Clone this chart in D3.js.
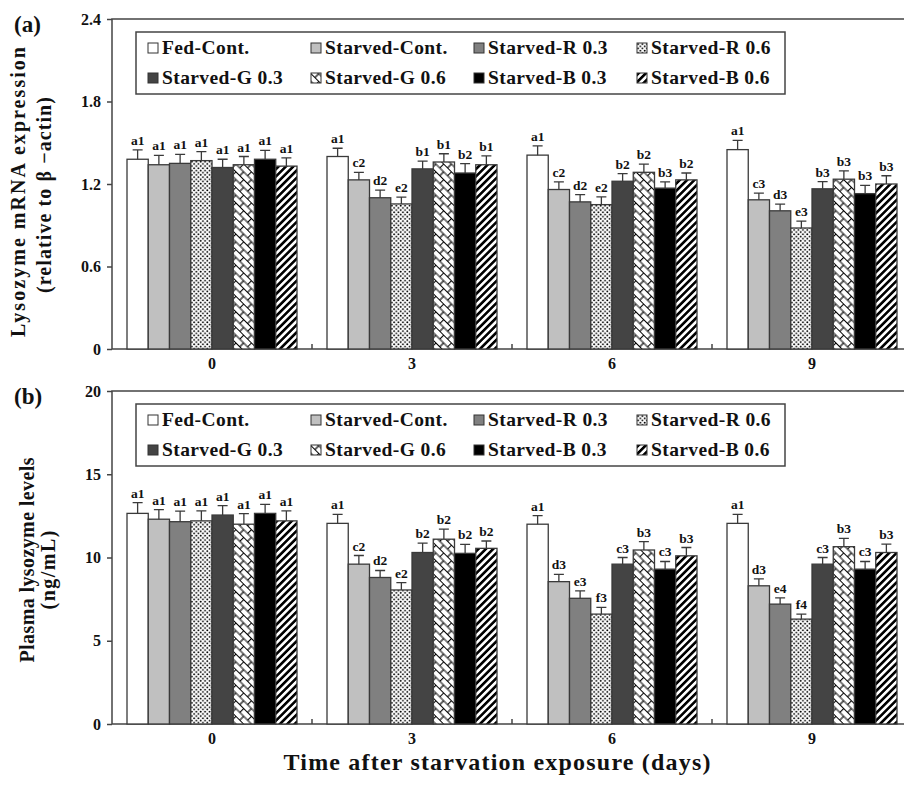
<!DOCTYPE html>
<html lang="en">
<head>
<meta charset="UTF-8">
<title>Lysozyme expression after starvation</title>
<script src="https://d3js.org/d3.v7.min.js"></script>
<style>
    body { margin: 0; background: #fff; }
    svg text { font-family: "Liberation Serif", "Times New Roman", Times, serif; font-weight: bold; fill: #111; }
    .tick line, .domain { stroke: #444; stroke-width: 1.5; }
    .frame { fill: none; stroke: #444; stroke-width: 1.5; }
    .bar { stroke: #3a3a3a; stroke-width: 1.3; }
    .err { stroke: #3a3a3a; stroke-width: 1.3; fill: none; }
</style>
</head>
<body>
<svg id="chart" width="904" height="786"></svg>
<script>
const days = ["0", "3", "6", "9"];
const groups = ["Fed-Cont.", "Starved-Cont.", "Starved-R 0.3", "Starved-R 0.6",
                "Starved-G 0.3", "Starved-G 0.6", "Starved-B 0.3", "Starved-B 0.6"];

// (a) lysozyme mRNA, relative to beta-actin; one row per day
const mrnaMeans = [
    [1.38, 1.34, 1.35, 1.37, 1.32, 1.34, 1.38, 1.33],
    [1.40, 1.23, 1.10, 1.055, 1.31, 1.36, 1.28, 1.34],
    [1.41, 1.16, 1.07, 1.05, 1.22, 1.285, 1.17, 1.23],
    [1.45, 1.085, 1.005, 0.88, 1.165, 1.235, 1.13, 1.20]
];
const mrnaErrors = [
    [0.068, 0.068, 0.065, 0.065, 0.06, 0.06, 0.065, 0.06],
    [0.06, 0.055, 0.055, 0.05, 0.056, 0.06, 0.068, 0.065],
    [0.068, 0.055, 0.053, 0.056, 0.056, 0.06, 0.045, 0.05],
    [0.068, 0.048, 0.048, 0.05, 0.053, 0.06, 0.06, 0.06]
];
const mrnaLetters = [
    ["a1", "a1", "a1", "a1", "a1", "a1", "a1", "a1"],
    ["a1", "c2", "d2", "e2", "b1", "b1", "b2", "b1"],
    ["a1", "c2", "d2", "e2", "b2", "b2", "b3", "b2"],
    ["a1", "c3", "d3", "e3", "b3", "b3", "b3", "b3"]
];
const mrnaTicks = [0, 0.6, 1.2, 1.8, 2.4];

// (b) plasma lysozyme, ng/mL
const lysoMeans = [
    [12.65, 12.3, 12.15, 12.2, 12.55, 12.0, 12.65, 12.2],
    [12.05, 9.6, 8.8, 8.05, 10.3, 11.1, 10.25, 10.55],
    [12.0, 8.55, 7.55, 6.6, 9.6, 10.45, 9.3, 10.1],
    [12.05, 8.3, 7.2, 6.3, 9.6, 10.65, 9.3, 10.3]
];
const lysoErrors = [
    [0.64, 0.58, 0.63, 0.6, 0.56, 0.64, 0.54, 0.6],
    [0.54, 0.52, 0.42, 0.44, 0.56, 0.6, 0.54, 0.44],
    [0.52, 0.44, 0.44, 0.4, 0.4, 0.5, 0.46, 0.5],
    [0.54, 0.42, 0.38, 0.3, 0.4, 0.5, 0.46, 0.5]
];
const lysoLetters = [
    ["a1", "a1", "a1", "a1", "a1", "a1", "a1", "a1"],
    ["a1", "c2", "d2", "e2", "b2", "b2", "b2", "b2"],
    ["a1", "d3", "e3", "f3", "c3", "b3", "c3", "b3"],
    ["a1", "d3", "e4", "f4", "c3", "b3", "c3", "b3"]
];
const lysoTicks = [0, 5, 10, 15, 20];

const svg = d3.select("#chart");
const defs = svg.append("defs");

// fill patterns
const dots = defs.append("pattern").attr("id", "p-dots")
    .attr("patternUnits", "userSpaceOnUse").attr("width", 4.4).attr("height", 4.4);
dots.append("rect").attr("width", 4.4).attr("height", 4.4).attr("fill", "#fff");
dots.append("circle").attr("cx", 1.1).attr("cy", 1.1).attr("r", 0.95).attr("fill", "#000");
dots.append("circle").attr("cx", 3.3).attr("cy", 3.3).attr("r", 0.95).attr("fill", "#000");

// diagonal brick lattice
const brick = defs.append("pattern").attr("id", "p-brick")
    .attr("patternUnits", "userSpaceOnUse").attr("width", 11).attr("height", 11)
    .attr("patternTransform", "rotate(45)");
brick.append("rect").attr("width", 11).attr("height", 11).attr("fill", "#fff");
brick.append("path")
    .attr("d", "M0,0.5 H11 M0,6 H11 M0.5,0.5 V6 M6,6 V11")
    .attr("stroke", "#000").attr("stroke-width", 1.2).attr("fill", "none");

const stripes = defs.append("pattern").attr("id", "p-stripes")
    .attr("patternUnits", "userSpaceOnUse").attr("width", 5.2).attr("height", 5.2)
    .attr("patternTransform", "rotate(45)");
stripes.append("rect").attr("width", 5.2).attr("height", 5.2).attr("fill", "#fff");
stripes.append("rect").attr("width", 2.6).attr("height", 5.2).attr("fill", "#000");

const fills = ["#ffffff", "#c0c0c0", "#808080", "url(#p-dots)",
               "#444444", "url(#p-brick)", "#000000", "url(#p-stripes)"];
const fillScale = d3.scaleOrdinal().domain(groups).range(fills);

const left = 112, right = 912;

const x0 = d3.scaleBand().domain(days).range([left, right])
    .paddingInner(0.15).paddingOuter(0.075);
const x1 = d3.scaleBand().domain(groups).range([0, x0.bandwidth()]);

function drawPanel(cfg) {
    const g = svg.append("g");
    const y = d3.scaleLinear().domain([cfg.ticks[0], cfg.ticks[cfg.ticks.length - 1]])
        .range([cfg.bottom, cfg.top]);

    // frame
    g.append("rect").attr("class", "frame")
        .attr("x", left).attr("y", cfg.top)
        .attr("width", right - left).attr("height", cfg.bottom - cfg.top);

    // y axis
    const ya = g.append("g").attr("transform", `translate(${left},0)`)
        .call(d3.axisLeft(y).tickValues(cfg.ticks).tickSize(5).tickPadding(6)
            .tickFormat(cfg.format));
    ya.select(".domain").remove();
    ya.selectAll("text").style("font-size", "16px");

    // x axis labels at band centers
    const xa = g.append("g").attr("transform", `translate(0,${cfg.bottom})`)
        .call(d3.axisBottom(x0).tickSize(0).tickPadding(9));
    xa.select(".domain").remove();
    xa.selectAll("text").style("font-size", "16px");

    // inward ticks at group boundaries
    const gap = x0.step() * x0.paddingInner() / 2;
    g.selectAll("line.sep").data(days.slice(1)).join("line")
        .attr("class", "sep")
        .attr("x1", d => x0(d) - gap).attr("x2", d => x0(d) - gap)
        .attr("y1", cfg.bottom).attr("y2", cfg.bottom - 5)
        .attr("stroke", "#444").attr("stroke-width", 1.5);

    // bars
    const rows = days.map((d, i) => groups.map((s, j) => ({
        day: d, group: s, v: cfg.means[i][j], e: cfg.errors[i][j], t: cfg.letters[i][j]
    })));
    const dg = g.selectAll("g.day").data(rows).join("g")
        .attr("class", "day")
        .attr("transform", (r, i) => `translate(${x0(days[i])},0)`);

    dg.selectAll("rect.bar").data(r => r).join("rect")
        .attr("class", "bar")
        .attr("x", d => x1(d.group))
        .attr("y", d => y(d.v))
        .attr("width", x1.bandwidth())
        .attr("height", d => y(0) - y(d.v))
        .attr("fill", d => fillScale(d.group));

    dg.selectAll("path.err").data(r => r).join("path")
        .attr("class", "err")
        .attr("d", d => {
            const cx = x1(d.group) + x1.bandwidth() / 2;
            const yt = y(d.v + d.e);
            return `M${cx},${y(d.v)} V${yt} M${cx - 5},${yt} H${cx + 5}`;
        });

    dg.selectAll("text.sig").data(r => r).join("text")
        .attr("class", "sig")
        .attr("x", d => x1(d.group) + x1.bandwidth() / 2)
        .attr("y", d => y(d.v + d.e) - 5)
        .attr("text-anchor", "middle")
        .style("font-size", "13.5px")
        .text(d => d.t);

    // legend
    const lg = g.append("g").attr("transform", `translate(136,${cfg.top + 13})`);
    lg.append("rect").attr("width", 649).attr("height", 62)
        .attr("fill", "#fff").attr("stroke", "#444").attr("stroke-width", 1.5);
    const items = lg.selectAll("g.item").data(groups).join("g")
        .attr("class", "item")
        .attr("transform", (d, i) => `translate(${12 + (i % 4) * 163},${i < 4 ? 11 : 41})`);
    items.append("rect")
        .attr("width", 10).attr("height", 10)
        .attr("fill", d => fillScale(d))
        .attr("stroke", "#333").attr("stroke-width", 1);
    items.append("text")
        .attr("x", 14).attr("y", 11)
        .style("font-size", "19.5px")
        .style("letter-spacing", "0.4px")
        .text(d => d);

    // panel letter
    svg.append("text").attr("x", 14).attr("y", cfg.top + 13)
        .style("font-size", "23px").text(cfg.panel);

    // y titles
    cfg.titles.forEach(t => {
        svg.append("text")
            .attr("transform", `translate(${t.x},${t.cy}) rotate(-90)`)
            .attr("text-anchor", "middle")
            .attr("textLength", t.len).attr("lengthAdjust", "spacing")
            .style("font-size", "20px")
            .text(t.text);
    });
}

drawPanel({
    panel: "(a)", top: 19, bottom: 349,
    ticks: mrnaTicks, format: d => d === 0 ? "0" : d3.format(".1f")(d),
    means: mrnaMeans, errors: mrnaErrors, letters: mrnaLetters,
    titles: [
        { text: "Lysozyme mRNA expression", x: 25, cy: 192, len: 290 },
        { text: "(relative to β −actin)", x: 51, cy: 195, len: 196 }
    ]
});

drawPanel({
    panel: "(b)", top: 391, bottom: 724,
    ticks: lysoTicks, format: d3.format("d"),
    means: lysoMeans, errors: lysoErrors, letters: lysoLetters,
    titles: [
        { text: "Plasma lysozyme levels", x: 34, cy: 560, len: 205 },
        { text: "(ng/mL)", x: 55, cy: 570, len: 79 }
    ]
});

svg.append("text")
    .attr("x", 497).attr("y", 770)
    .attr("text-anchor", "middle")
    .attr("textLength", 427).attr("lengthAdjust", "spacing")
    .style("font-size", "24px")
    .text("Time after starvation exposure (days)");
</script>
</body>
</html>
